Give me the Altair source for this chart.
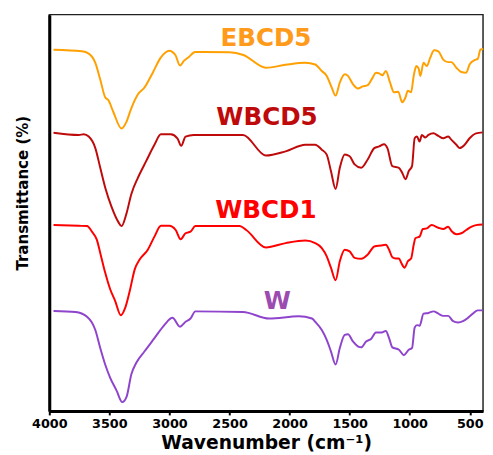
import altair as alt
import pandas as pd

# ---- data (wavenumber in cm-1, transmittance in arbitrary offset units) ----
samples = ["EBCD5", "WBCD5", "WBCD1", "W"]

wn_ebcd5 = [3965, 3729, 3672, 3617, 3576, 3535, 3508, 3467, 3399, 3358, 3320, 3262, 3207, 3139, 3074,
            3002, 2951, 2912, 2880, 2838, 2787, 2500, 2385, 2197, 2033, 1869, 1787, 1732, 1691, 1650, 1617,
            1582, 1541, 1514, 1473, 1432, 1391, 1350, 1309, 1281, 1254, 1227, 1199, 1164, 1131, 1096,
            1063, 1035, 1016, 989, 967, 945, 926, 912, 885, 858, 830, 797, 762, 721, 680, 653, 612, 571,
            530, 502, 461, 434, 412, 388]
t_ebcd5 = [367.3, 365.7, 363.3, 354, 337, 319, 316, 304, 287.3, 294, 307, 322, 329, 344, 359,
           366.3, 362, 351.3, 356, 360, 365, 364.7, 362, 349, 352, 354, 352.3, 345.7, 340.7, 329, 320.7,
           334, 342.3, 340.7, 332.3, 328, 330, 331.3, 339, 344, 343.3, 341.3, 345.7, 334, 324, 324.7,
           314, 319, 325.7, 324, 340.7, 350.7, 348, 340.7, 354, 350.7, 359, 366.7, 365.7, 357.3, 354.7,
           354.7, 349, 344.7, 344, 352.3, 356.7, 358, 367.3, 368]

wn_wbcd5 = [3965, 3754, 3713, 3672, 3617, 3576, 3535, 3481, 3426, 3399, 3358, 3317, 3262, 3194, 3125,
            3071, 2989, 2934, 2902, 2866, 2798, 2388, 2197, 2033, 1869, 1787, 1732, 1691, 1656, 1617,
            1582, 1541, 1500, 1459, 1404, 1350, 1295, 1254, 1213, 1186, 1145, 1090, 1063, 1035, 1008,
            981, 959, 940, 918, 899, 871, 844, 803, 762, 721, 680, 653, 612, 584, 543, 502, 448, 393]
t_wbcd5 = [283, 280.7, 281.3, 279, 267.3, 247.3, 227.3, 207.3, 192.3, 188, 200.7, 220.7, 237.3, 254, 270.7,
           281.3, 281.3, 277.3, 269.7, 279, 280.7, 280.7, 259.7, 264, 270.7, 270.7, 265.7, 260.7, 244, 225.7,
           247.3, 260.7, 259, 250.7, 247.3, 255.7, 267.3, 269, 271.3, 267.3, 249, 247.3, 242.3, 235.7, 244,
           249, 277.3, 279, 274, 280.7, 278, 280.7, 282.3, 279.7, 277.3, 279, 275.7, 270.7, 267.3, 270.7,
           277.3, 282.3, 283.3]

wn_wbcd1 = [3965, 3754, 3686, 3645, 3604, 3576, 3535, 3494, 3453, 3404, 3371, 3330, 3289, 3248, 3180,
            3125, 3071, 3002, 2948, 2907, 2866, 2825, 2784, 2416, 2361, 2197, 2033, 1869, 1787, 1732,
            1691, 1656, 1617, 1582, 1541, 1500, 1459, 1404, 1350, 1295, 1240, 1199, 1172, 1145, 1117,
            1090, 1071, 1043, 1016, 989, 967, 953, 918, 891, 858, 817, 762, 721, 680, 653, 612, 571,
            530, 489, 448, 393]
t_wbcd1 = [189, 188.3, 188, 182.3, 174, 160.7, 140.7, 124, 112.3, 97.3, 104, 122.3, 144, 154, 164,
           177.3, 188.3, 188.3, 184, 174.7, 180.7, 182.3, 188, 188, 184, 166.3, 170.7, 173.3, 170.7, 165.7,
           157.3, 145.7, 133, 152.3, 164, 162.3, 155.7, 154.7, 159, 167.3, 168.3, 169, 164, 156.3, 155,
           155, 150.7, 145.7, 152.3, 155, 169, 175.7, 177.3, 185, 185.7, 189, 186.3, 185, 187.3, 183,
           179.7, 180.7, 184, 187.3, 189, 189.7]

wn_w = [3965, 3781, 3686, 3617, 3576, 3535, 3494, 3440, 3393, 3358, 3317, 3276, 3207, 3125, 3043,
        2975, 2912, 2866, 2825, 2784, 2388, 2170, 1924, 1814, 1787, 1732, 1691, 1656, 1617, 1582,
        1541, 1514, 1473, 1432, 1404, 1363, 1322, 1281, 1240, 1199, 1172, 1145, 1090, 1049, 1008,
        981, 959, 940, 918, 885, 844, 803, 762, 721, 680, 639, 598, 557, 516, 475, 434, 393]
t_w = [101.7, 100.7, 95.7, 82.3, 64, 47.3, 34, 20.7, 9, 14, 37.3, 49, 60.7, 74, 87.3,
       94.7, 85.7, 90.7, 94, 101.3, 100.7, 94, 96.3, 94, 90.7, 82.3, 72.3, 60.7, 47.3, 64,
       77.3, 78, 70.7, 65.7, 64.7, 70.7, 73.3, 79.7, 79.7, 81.3, 74, 64.7, 62.3, 56.7, 62.3,
       64, 84.7, 87.3, 86.7, 99, 99.7, 101.3, 99, 96.7, 96.7, 91.3, 90, 91.3, 94.7, 99, 102.3, 102.3]

label_wn = [2197, 2188, 2197, 2102]
label_t = [379.5, 298.5, 204.5, 111.5]

x_ticks = [4000, 3500, 3000, 2500, 2000, 1500, 1000, 500]

# ---- tables ----
rows = []
for name, wns, ts in [("EBCD5", wn_ebcd5, t_ebcd5), ("WBCD5", wn_wbcd5, t_wbcd5),
                      ("WBCD1", wn_wbcd1, t_wbcd1), ("W", wn_w, t_w)]:
    assert len(wns) == len(ts), name
    for w, t in zip(wns, ts):
        rows.append({"sample": name, "wn": w, "T": t})
df = pd.DataFrame(rows)
labels = pd.DataFrame({"sample": samples, "wn": label_wn, "T": label_t})

line_colors = ["#FFA000", "#BE0A0A", "#FF0000", "#8E44CC"]
label_colors = ["#FF9A1A", "#BE0A0A", "#FF0000", "#9C4BB0"]

x_enc = alt.X(
    "wn:Q",
    scale=alt.Scale(domain=[390, 4000], reverse=True, nice=False, zero=False),
    axis=alt.Axis(
        values=x_ticks, format="d", title="Wavenumber (cm⁻¹)", grid=False,
        domainWidth=3, domainColor="black",
        tickSize=4, tickWidth=2, tickColor="black",
        labelFont="DejaVu Sans", labelFontWeight="bold", labelFontSize=13, labelColor="black",
        labelPadding=3, labelFlush=False, labelOverlap=False,
        titleFont="DejaVu Sans", titleFontWeight="bold", titleFontSize=19, titleColor="black",
        titleY=38, titleBaseline="alphabetic",
    ),
)
y_enc = alt.Y(
    "T:Q",
    scale=alt.Scale(domain=[0, 403], nice=False, zero=False),
    axis=alt.Axis(
        labels=False, ticks=False, grid=False, title="Transmittance (%)",
        domainWidth=3, domainColor="black",
        titleFont="DejaVu Sans Condensed, Liberation Sans, sans-serif", titleFontWeight="bold",
        titleFontSize=17, titleColor="black",
        titleAngle=270, titleX=-27.5, titleY=181, titleBaseline="middle", titleAlign="center",
    ),
)

lines = alt.Chart(df).mark_line(strokeWidth=2, interpolate="monotone").encode(
    x=x_enc,
    y=y_enc,
    color=alt.Color("sample:N", scale=alt.Scale(domain=samples, range=line_colors), legend=None),
    detail="sample:N",
)

texts = alt.Chart(labels).mark_text(
    font="DejaVu Sans", fontWeight="bold", fontSize=25, align="center", baseline="middle"
).encode(
    x="wn:Q",
    y="T:Q",
    text="sample:N",
    color=alt.Color("sample:N", scale=alt.Scale(domain=samples, range=label_colors), legend=None),
)

chart = (
    alt.layer(lines, texts)
    .resolve_scale(color="independent")
    .properties(
        width=441, height=403,
        autosize=alt.AutoSizeParams(type="none"),
        padding={"left": 42, "top": 3, "right": 2, "bottom": 41},
        background="white",
    )
    .configure_view(stroke="#222222", strokeWidth=1.5)
)

chart.save("out.html", embed_options={"renderer": "svg", "actions": False})
